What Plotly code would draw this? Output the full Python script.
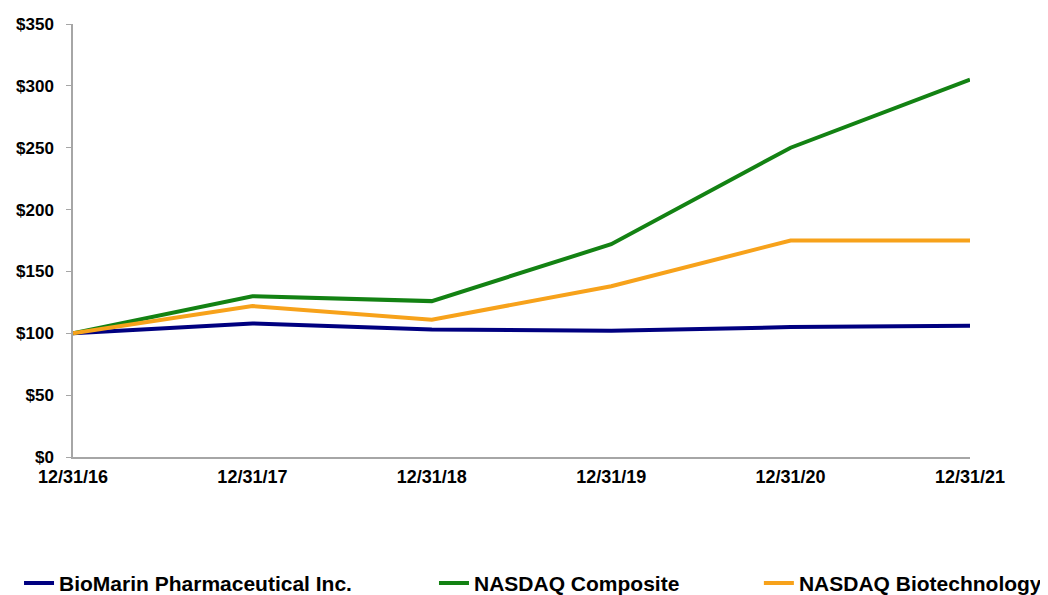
import plotly.graph_objects as go

dates = ["12/31/16", "12/31/17", "12/31/18", "12/31/19", "12/31/20", "12/31/21"]
biomarin = [100, 108, 103, 102, 105, 106]
nasdaq_composite = [100, 130, 126, 172, 250, 305]
nasdaq_biotech = [100, 122, 111, 138, 175, 175]
y_ticks = [0, 50, 100, 150, 200, 250, 300, 350]
y_labels = ["$" + str(v) for v in y_ticks]

series = [
    ("BioMarin Pharmaceutical Inc.", biomarin, "#000080", "legend"),
    ("NASDAQ Composite", nasdaq_composite, "#138213", "legend2"),
    ("NASDAQ Biotechnology", nasdaq_biotech, "#F7A21B", "legend3"),
]

fig = go.Figure()
for name, vals, col, lg in series:
    fig.add_trace(go.Scatter(x=dates, y=vals, name=name, mode="lines",
                             line=dict(color=col, width=4), legend=lg))

FAM = "Liberation Sans, Arial, sans-serif"
tickfont = dict(family=FAM, size=18, color="#000000", weight="bold")
ytickfont = dict(family=FAM, size=17, color="#000000", weight="bold")
legfont = dict(family=FAM, size=21, color="#000000", weight="bold")

def leg(x):
    return dict(orientation="h", xref="container", yref="container", x=x, xanchor="left",
                y=0.02, yanchor="middle", font=legfont, itemwidth=30,
                bgcolor="rgba(0,0,0,0)")

fig.update_layout(
    width=1040, height=587,
    margin=dict(l=65, r=78, t=16, b=138),
    paper_bgcolor="white", plot_bgcolor="white",
    font=dict(family=FAM, size=18, color="#000000"),
    showlegend=True,
    legend=leg(0.0106),
    legend2=leg(0.4096),
    legend3=leg(0.722),
    xaxis=dict(type="category", range=[0, 5], showgrid=False, zeroline=False,
               showline=True, linecolor="#A6A6A6", linewidth=1.5, ticks="",
               ticklabelstandoff=3, tickfont=tickfont, automargin=False),
    yaxis=dict(range=[0, 350], tickvals=y_ticks, ticktext=y_labels, showgrid=False, zeroline=False,
               showline=True, linecolor="#A6A6A6", linewidth=1.5, ticks="outside", ticklen=5,
               tickcolor="#A6A6A6", ticklabelstandoff=9, tickfont=ytickfont, automargin=False),
)

fig.write_html("out.html")
